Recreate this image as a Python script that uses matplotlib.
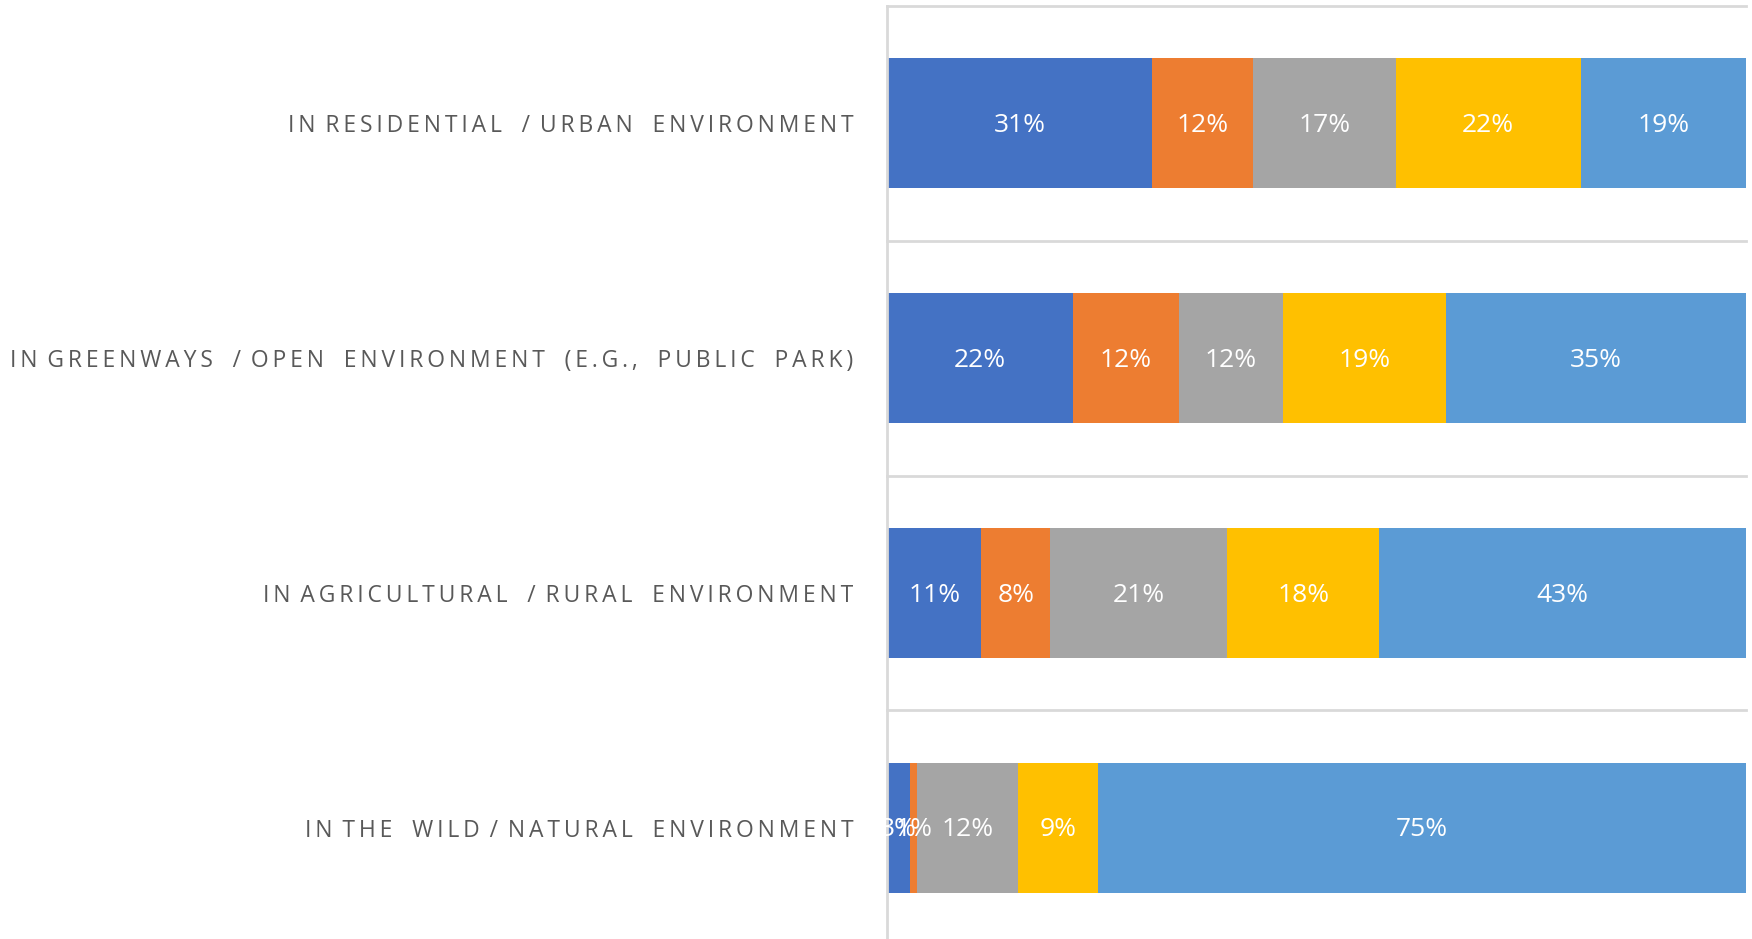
from matplotlib import pyplot as plt
import numpy as np

# Categorias (de arriba hacia abajo)
categories = ['IN RESIDENTIAL  / URBAN  ENVIRONMENT',
              'IN GREENWAYS  / OPEN  ENVIRONMENT  (E.G.,  PUBLIC  PARK)',
              'IN AGRICULTURAL  / RURAL  ENVIRONMENT',
              'IN THE  WILD / NATURAL  ENVIRONMENT']

# Porcentajes por serie
s1 = [30.9, 21.6, 11.0, 2.7]
s2 = [11.7, 12.4, 8.0, 0.8]
s3 = [16.6, 12.1, 20.6, 11.7]
s4 = [21.6, 19.0, 17.7, 9.4]
s5 = [19.2, 34.9, 42.7, 75.4]
series = [s1, s2, s3, s4, s5]
colors = ['#4472C4', '#ED7D31', '#A5A5A5', '#FFC000', '#5B9BD5']

plt.rcParams['font.family'] = ['Open Sans', 'DejaVu Sans']


def spaced(s):
    # espaciado entre letras (six-per-em space), tambien tras cada espacio
    return ' \u2006'.join('\u2006'.join(w) for w in s.split(' '))


W, H = 1752, 939
fig = plt.figure(figsize=(W/100, H/100), dpi=100)
# el eje se sale un poco por abajo de la figura, como en la referencia
ax = fig.add_axes([887/W, (H-945)/H, (1746-887)/W, (945-6)/H])

y = np.arange(len(categories))
left = np.zeros(len(categories))
for vals, col in zip(series, colors):
    vals = np.array(vals)
    ax.barh(y, vals, left=left, height=0.554, color=col, zorder=2)
    for yi, l, v in zip(y, left, vals):
        ax.text(l + v/2, yi + 0.01, f'{v:.0f}%', ha='center', va='center',
                color='white', fontsize=19, zorder=3)
    left += vals

ax.set_xlim(0, 100)
ax.set_ylim(len(categories)-0.5, -0.5)
ax.set_yticks(y)
ax.set_yticklabels([spaced(c) for c in categories], fontsize=16.5, color='#595959')
ax.tick_params(axis='y', length=0, pad=24)
ax.set_xticks([])

# lineas separadoras entre categorias
for b in np.arange(-0.5, len(categories), 1.0):
    ax.axhline(b, color='#D9D9D9', linewidth=2, zorder=1, clip_on=False)

for s in ['top', 'right', 'bottom']:
    ax.spines[s].set_visible(False)
ax.spines['left'].set_color('#D9D9D9')
ax.spines['left'].set_linewidth(2)

fig.savefig('out.png', dpi=100)
